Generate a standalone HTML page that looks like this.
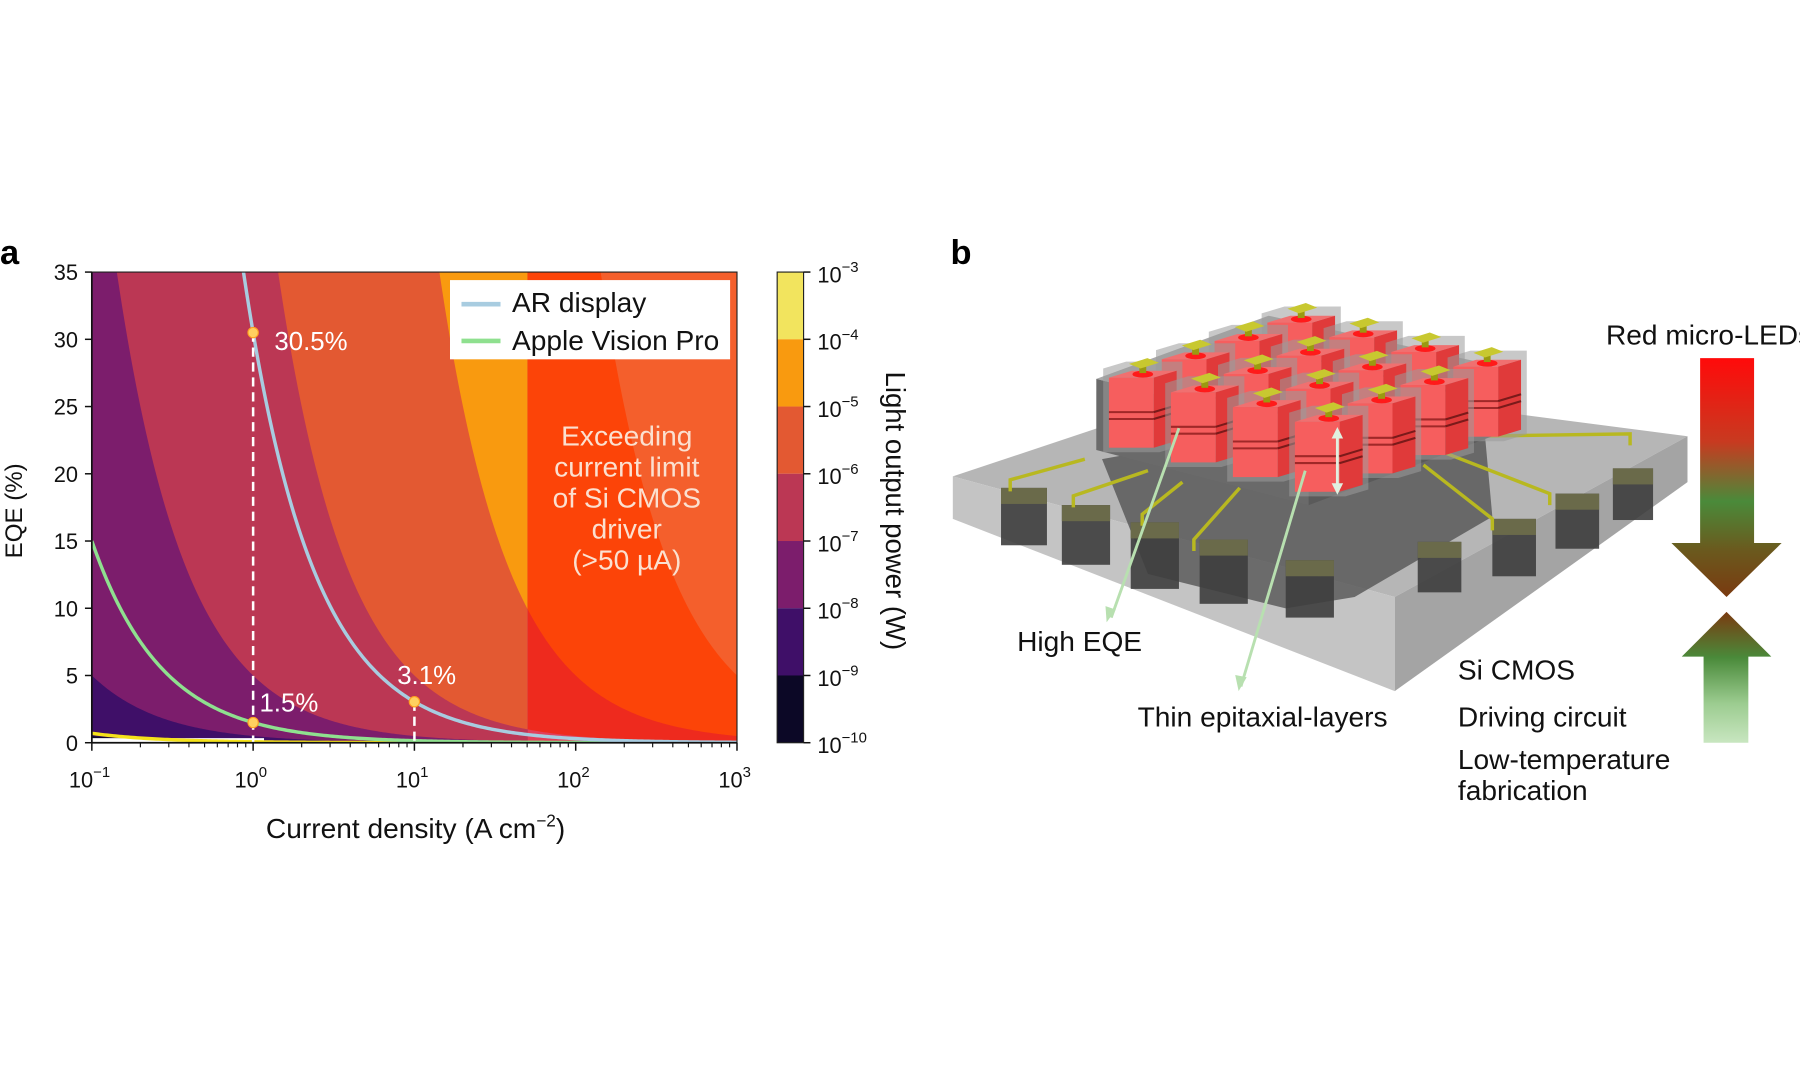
<!DOCTYPE html>
<html><head><meta charset="utf-8">
<style>
html,body{margin:0;padding:0;background:#fff;width:1800px;height:1080px;overflow:hidden}
svg{display:block}
text{font-family:"Liberation Sans",sans-serif}
</style></head>
<body>
<svg id="s" width="1800" height="1080" viewBox="0 0 1568 940.8" xmlns="http://www.w3.org/2000/svg">
<defs>
<clipPath id="pc"><rect x="80" y="237" width="562" height="410"/></clipPath>
<clipPath id="cl"><rect x="80" y="237" width="380" height="410"/></clipPath>
<clipPath id="cr"><rect x="459.7" y="237" width="182.3" height="410"/></clipPath>
<linearGradient id="gd" x1="0" y1="0" x2="0" y2="1">
<stop offset="0" stop-color="#ff0a0a"/><stop offset="0.35" stop-color="#c83a20"/><stop offset="0.6" stop-color="#4a8a3a"/><stop offset="0.8" stop-color="#6a5a1e"/><stop offset="1" stop-color="#7a3a10"/></linearGradient>
<linearGradient id="gu" x1="0" y1="0" x2="0" y2="1">
<stop offset="0" stop-color="#7a3a10"/><stop offset="0.35" stop-color="#4a8a3a"/><stop offset="0.7" stop-color="#9ccc90"/><stop offset="1" stop-color="#c8e6c0"/></linearGradient>
</defs>
<g id="bandsL" clip-path="url(#cl)"></g>
<g id="bandsR" clip-path="url(#cr)"></g>
<g id="curves" clip-path="url(#pc)"></g>
<g id="axes"></g>
<g id="b"></g>
</svg>
<script>
const NS="http://www.w3.org/2000/svg";
function el(p,tag,attrs,txt){const e=document.createElementNS(NS,tag);for(const k in attrs)e.setAttribute(k,attrs[k]);if(txt!==undefined)e.textContent=txt;p.appendChild(e);return e;}
const X=J=>80+(Math.log10(J)+1)*140.5, Y=e=>647-e*11.714;
function band(g,c,col){let pts=[];for(let i=0;i<=400;i++){const lj=-1+4*i/400,J=Math.pow(10,lj);let e=c/J;if(e>35.5)e=35.5;pts.push(X(J).toFixed(2)+","+Y(e).toFixed(2));}
pts.push(X(1000)+","+Y(35.5));pts.push(X(0.1)+","+Y(35.5));el(g,"polygon",{points:pts.join(" "),fill:col});}
const th=[0.05,0.5,5,50,500,5000];
const cl=["#3f0f68","#7c1d6c","#bb3754","#e35932","#f99a0f","#f2e45e"];
const cr=["#9a2a5a","#c8305a","#e2405a","#ee2a1e","#fc4408","#f45f2c"];
const gL=document.getElementById("bandsL"),gR=document.getElementById("bandsR");
el(gL,"rect",{x:80,y:237,width:562,height:410,fill:"#0c0826"});el(gR,"rect",{x:80,y:237,width:562,height:410,fill:"#5a1a4a"});
th.forEach((c,i)=>{band(gL,c,cl[i]);band(gR,c,cr[i]);});
const gc=document.getElementById("curves");
function curve(c,col,w,op){let d="";for(let i=0;i<=300;i++){const J=Math.pow(10,-1+4*i/300);let e=c/J;if(e>36)continue;d+=(d?"L":"M")+X(J).toFixed(2)+" "+Y(e).toFixed(2);}el(gc,"path",{d:d,fill:"none",stroke:col,"stroke-width":w,opacity:op});}
el(gc,"rect",{x:80,y:643,width:150,height:4,fill:"#fff"});
curve(0.07,"#f5e21a",3,1);curve(1.5,"#8fe08f",3,1);curve(30.5,"#a8cce0",3,1);
el(gc,"line",{x1:X(1),y1:Y(30.5),x2:X(1),y2:647,stroke:"#fff","stroke-width":2.2,"stroke-dasharray":"8,5"});
el(gc,"line",{x1:X(10),y1:Y(3.05),x2:X(10),y2:647,stroke:"#fff","stroke-width":2.2,"stroke-dasharray":"8,5"});
[[1,30.5],[1,1.5],[10,3.05]].forEach(p=>el(gc,"circle",{cx:X(p[0]),cy:Y(p[1]),r:4.5,fill:"#ffd060",stroke:"#ffa020","stroke-width":1}));
const ga=document.getElementById("axes");
el(ga,"text",{x:239,y:305,fill:"#fff","font-size":22.5},"30.5%");
el(ga,"text",{x:226,y:620,fill:"#fff","font-size":22.5},"1.5%");
el(ga,"text",{x:346,y:596,fill:"#fff","font-size":22.5},"3.1%");
el(ga,"rect",{x:392,y:244,width:244,height:69,fill:"#fff"});
el(ga,"line",{x1:402,y1:265,x2:436,y2:265,stroke:"#a8cce0","stroke-width":4});
el(ga,"line",{x1:402,y1:297,x2:436,y2:297,stroke:"#8fe08f","stroke-width":4});
el(ga,"text",{x:446,y:272,"font-size":24.5,fill:"#111"},"AR display");
el(ga,"text",{x:446,y:305,"font-size":24.5,fill:"#111"},"Apple Vision Pro");
["Exceeding","current limit","of Si CMOS","driver","(>50 µA)"].forEach((t,i)=>el(ga,"text",{x:546,y:388+i*27,"font-size":24.5,fill:"#fbe0d0","text-anchor":"middle"},t));
el(ga,"rect",{x:80,y:237,width:562,height:410,fill:"none",stroke:"#222","stroke-width":1});
el(ga,"line",{x1:80,y1:647,x2:642,y2:647,stroke:"#111","stroke-width":1.5});
el(ga,"line",{x1:80,y1:237,x2:80,y2:647,stroke:"#111","stroke-width":1.5});
for(let k=0;k<=7;k++){const y=Y(k*5);el(ga,"line",{x1:74,y1:y,x2:80,y2:y,stroke:"#111","stroke-width":1.3});el(ga,"text",{x:68,y:y+7,"font-size":19,"text-anchor":"end",fill:"#111"},String(k*5));}
for(let d=-1;d<=3;d++){const x=X(Math.pow(10,d));el(ga,"line",{x1:x,y1:647,x2:x,y2:654,stroke:"#111","stroke-width":1.3});
 const t=el(ga,"text",{x:x-2,y:686,"font-size":19,"text-anchor":"middle",fill:"#111"},"10");el(t,"tspan",{dy:-9,"font-size":13},d<0?"−1":String(d));
 if(d<3)for(let m=2;m<10;m++){const xm=X(m*Math.pow(10,d));el(ga,"line",{x1:xm,y1:647,x2:xm,y2:651,stroke:"#111","stroke-width":1});}}
const xl=el(ga,"text",{x:362,y:730,"font-size":24.5,"text-anchor":"middle",fill:"#111"},"Current density (A cm");el(xl,"tspan",{dy:-10,"font-size":15},"−2");el(xl,"tspan",{dy:10},")");
el(ga,"text",{x:0,y:0,"font-size":21,"text-anchor":"middle",fill:"#111",transform:"translate(19,445) rotate(-90)"},"EQE (%)");
el(ga,"text",{x:0,y:230,"font-size":30,"font-weight":"bold",fill:"#000"},"a");
const cb=["#f2e45e","#f99a0f","#e35932","#bb3754","#7c1d6c","#3f0f68","#0c0826"];
cb.forEach((c,i)=>el(ga,"rect",{x:677,y:237+i*58.57,width:23,height:58.6,fill:c}));
el(ga,"rect",{x:677,y:237,width:23,height:410,fill:"none",stroke:"#222","stroke-width":1});
for(let i=0;i<=7;i++){const y=237+i*58.57;el(ga,"line",{x1:700,y1:y,x2:706,y2:y,stroke:"#111","stroke-width":1.3});
 const t=el(ga,"text",{x:712,y:y+9,"font-size":19,fill:"#111"},"10");el(t,"tspan",{dy:-9,"font-size":13},"−"+(3+i));}
el(ga,"text",{x:0,y:0,"font-size":24,"text-anchor":"middle",fill:"#111",transform:"translate(772,445) rotate(90)"},"Light output power (W)");
const gb=document.getElementById("b");
el(gb,"text",{x:828,y:230,"font-size":30,"font-weight":"bold",fill:"#000"},"b");
el(gb,"polygon",{points:"830,415 1085,330 1470,380 1215,520",fill:"#b6b6b6"});
el(gb,"polygon",{points:"830,415 1215,520 1215,602 830,452",fill:"#c4c4c4"});
el(gb,"polygon",{points:"1215,520 1470,380 1470,420 1215,602",fill:"#a4a4a4"});
el(gb,"polygon",{points:"960,400 1290,340 1300,450 1180,520 1120,530 1000,500",fill:"#555",opacity:0.8});
[[872,425,40,50],[925,440,42,52],[985,455,42,58],[1045,470,42,56],[1120,488,42,50],[1300,452,38,50],[1355,430,38,48],[1405,408,35,45],[1235,472,38,44]].forEach(r=>{
 el(gb,"rect",{x:r[0],y:r[1],width:r[2],height:r[3],fill:"#3e3e3e",opacity:0.9});el(gb,"rect",{x:r[0],y:r[1],width:r[2],height:14,fill:"#6a6a4a"});});
[[945,400,880,418],[1000,410,935,432],[1030,420,995,448],[1080,425,1040,470],[1280,380,1420,378],[1260,395,1350,430],[1240,405,1300,452]].forEach(w=>el(gb,"polyline",{points:w[0]+","+w[1]+" "+w[2]+","+w[3]+" "+w[2]+","+(w[3]+10),fill:"none",stroke:"#b8b820","stroke-width":3}));
el(gb,"polygon",{points:"955,330 1105,275 1300,318 1140,378",fill:"#a8a8a8"});
el(gb,"polygon",{points:"955,330 1140,378 1140,440 955,392",fill:"#6a6a6a"});
el(gb,"polygon",{points:"1140,378 1300,318 1300,380 1140,440",fill:"#5a5a5a"});
const a=[54,12.8],bb=[46,-16];
const w=39,h=61,dx=20,dy=-6;
for(let j=3;j>=0;j--)for(let i=0;i<4;i++){
 const x=966+i*a[0]+j*bb[0], y=329+i*a[1]+j*bb[1];
 el(gb,"polygon",{points:`${x-5},${y-8} ${x-5+dx},${y-8+dy} ${x+w+dx+5},${y-8+dy} ${x+w+dx+5},${y+h+dy+4} ${x+w+5},${y+h+4} ${x-5},${y+h+4}`,fill:"#9a9a9a",opacity:0.55});
 el(gb,"polygon",{points:`${x},${y} ${x+dx},${y+dy} ${x+w+dx},${y+dy} ${x+w},${y}`,fill:"#f07070"});
 el(gb,"polygon",{points:`${x+w},${y} ${x+w+dx},${y+dy} ${x+w+dx},${y+dy+h} ${x+w},${y+h}`,fill:"#e03a3a"});
 el(gb,"rect",{x:x,y:y,width:w,height:h,fill:"#f65e5e"});
 [30,36].forEach(o=>{el(gb,"line",{x1:x,y1:y+o,x2:x+w,y2:y+o,stroke:"#a02828","stroke-width":1.8});el(gb,"line",{x1:x+w,y1:y+o,x2:x+w+dx,y2:y+o+dy,stroke:"#7a1a1a","stroke-width":1.8});});
 const cx=x+w/2+dx/2, cy=y+dy/2;
 el(gb,"ellipse",{cx:cx,cy:cy,rx:9,ry:3,fill:"#ff1a1a"});
 el(gb,"rect",{x:cx-3,y:cy-9,width:6,height:8,fill:"#9a9a10"});
 el(gb,"polygon",{points:`${cx-12},${cy-9} ${cx+4},${cy-14} ${cx+14},${cy-10} ${cx-2},${cy-5}`,fill:"#c8c830"});
}
el(gb,"line",{x1:1027,y1:373,x2:968,y2:538,stroke:"#b8e0b0","stroke-width":2.5});
el(gb,"polygon",{points:"964,542 963,528 972,531",fill:"#b8e0b0"});
el(gb,"line",{x1:1137,y1:410,x2:1081,y2:598,stroke:"#b8e0b0","stroke-width":2.5});
el(gb,"polygon",{points:"1079,602 1076,588 1086,590",fill:"#b8e0b0"});
el(gb,"line",{x1:1165,y1:375,x2:1165,y2:428,stroke:"#e0f0e0","stroke-width":2.5});
el(gb,"polygon",{points:"1165,372 1160,382 1170,382",fill:"#e0f0e0"});el(gb,"polygon",{points:"1165,431 1160,421 1170,421",fill:"#e0f0e0"});
el(gb,"polygon",{points:"1481,312 1528,312 1528,473 1552,473 1504,520 1456,473 1481,473",fill:"url(#gd)"});
el(gb,"polygon",{points:"1504,533 1543,572 1523,572 1523,647 1484,647 1484,572 1465,572",fill:"url(#gu)"});
const T=(x,y,t)=>el(gb,"text",{x:x,y:y,"font-size":24.5,fill:"#111"},t);
T(1399,300,"Red micro-LEDs");T(886,567,"High EQE");T(991,633,"Thin epitaxial-layers");
T(1270,592,"Si CMOS");T(1270,633,"Driving circuit");T(1270,670,"Low-temperature");T(1270,697,"fabrication");
</script>
</body></html>
